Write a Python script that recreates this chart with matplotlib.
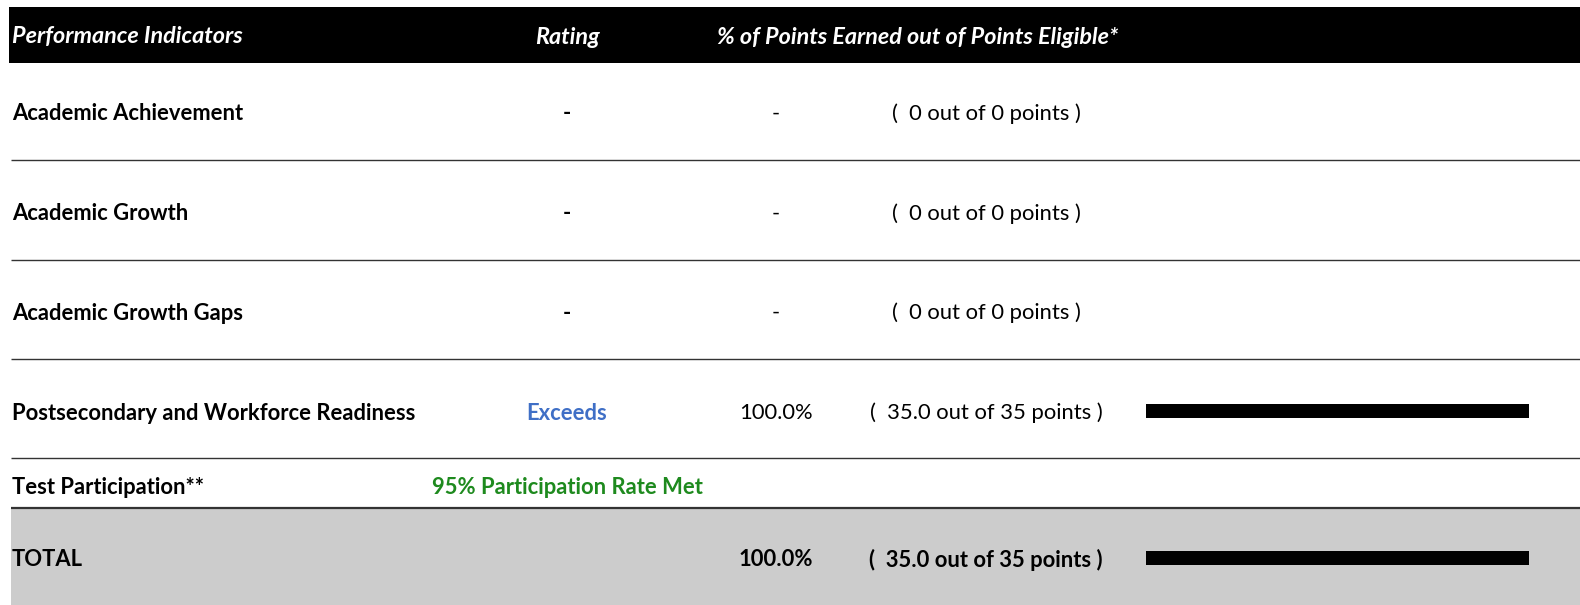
import matplotlib
matplotlib.use("Agg")
import matplotlib.pyplot as plt
from matplotlib.patches import Rectangle

# ---- data ----
headers = ["Performance Indicators", "Rating", "% of Points Earned out of Points Eligible*"]
indicators = ["Academic Achievement", "Academic Growth", "Academic Growth Gaps",
              "Postsecondary and Workforce Readiness"]
ratings = ["-", "-", "-", "Exceeds"]
pct_text = ["-", "-", "-", "100.0%"]
earned = [0, 0, 0, 35.0]
eligible = [0, 0, 0, 35]
earned_text = ["0", "0", "0", "35.0"]
bar_pct = [None, None, None, 100.0]
participation_label = "Test Participation**"
participation_text = "95% Participation Rate Met"
total_label = "TOTAL"
total_pct_text = "100.0%"
total_earned_text = "35.0"
total_eligible = 35
total_bar_pct = 100.0

# ---- layout ----
W, H = 1580, 605
FONT = ["Lato", "DejaVu Sans"]
fig = plt.figure(figsize=(W / 100, H / 100), dpi=100)
ax = fig.add_axes([0, 0, 1, 1])
ax.set_xlim(0, W)
ax.set_ylim(H, 0)
ax.axis("off")

left = 11
fs = 15.8
fs_hdr = 16.8
hdr_y = 37
toff = 2  # text vertical nudge
row_y = [112, 212, 311, 411]
part_y = 485
total_y = 558
lines_y = [160, 260, 359, 458]
x_rating = 567
x_pct = 776
x_pts = 986
blue = "#3F6FC6"
green = "#1E8A1E"

# header band
ax.add_patch(Rectangle((left - 2, 7), W - left + 2, 56, color="black", lw=0))
ax.text(left + 1, hdr_y, headers[0], color="white", fontsize=fs_hdr, fontweight="bold",
        fontstyle="italic", va="center", ha="left", family=FONT)
ax.text(x_rating, hdr_y, headers[1], color="white", fontsize=fs_hdr, fontweight="bold",
        fontstyle="italic", va="center", ha="center", family=FONT)
ax.text(717, hdr_y, headers[2], color="white", fontsize=fs_hdr, fontweight="bold",
        fontstyle="italic", va="center", ha="left", family=FONT)

# total band
ax.add_patch(Rectangle((left, 508), W - left, H - 508, color="#CCCCCC", lw=0))

# separators
for y in lines_y:
    ax.plot([left, W], [y, y], color="#333333", lw=1.0, solid_capstyle="butt")
ax.plot([left, W], [508, 508], color="#333333", lw=1.6, solid_capstyle="butt")

# indicator rows
for i, name in enumerate(indicators):
    y = row_y[i] + toff
    ax.text(left + 1, y, name, fontsize=fs, fontweight="bold", va="center", ha="left", family=FONT)
    rc = blue if ratings[i] != "-" else "black"
    ax.text(x_rating, y, ratings[i], fontsize=fs, fontweight="bold", color=rc,
            va="center", ha="center", family=FONT)
    ax.text(x_pct, y, pct_text[i], fontsize=fs, va="center", ha="center", family=FONT)
    ax.text(x_pts, y, f"(  {earned_text[i]} out of {eligible[i]} points )", fontsize=fs,
            va="center", ha="center", family=FONT)

# participation
ax.text(left + 1, part_y + toff, participation_label, fontsize=fs, fontweight="bold",
        va="center", ha="left", family=FONT)
ax.text(x_rating, part_y + toff, participation_text, fontsize=fs, fontweight="bold", color=green,
        va="center", ha="center", family=FONT)

# total
ax.text(left + 1, total_y + toff, total_label, fontsize=fs, fontweight="bold", va="center",
        ha="left", family=FONT)
ax.text(x_pct, total_y + toff, total_pct_text, fontsize=fs, fontweight="bold", va="center",
        ha="center", family=FONT)
ax.text(x_pts, total_y + toff, f"(  {total_earned_text} out of {total_eligible} points )",
        fontsize=fs, fontweight="bold", va="center", ha="center", family=FONT)

# bars
bx0, bw = 1146, 383
bax = fig.add_axes([bx0 / W, 0, bw / W, 1])
bax.set_xlim(0, 100)
bax.set_ylim(H, 0)
bax.axis("off")
bar_rows = [(row_y[i], v) for i, v in enumerate(bar_pct) if v is not None]
bar_rows.append((total_y, total_bar_pct))
bax.barh([r[0] for r in bar_rows], [r[1] for r in bar_rows], height=14, left=0,
         color="black", lw=0)

fig.savefig("out.png", dpi=100)
